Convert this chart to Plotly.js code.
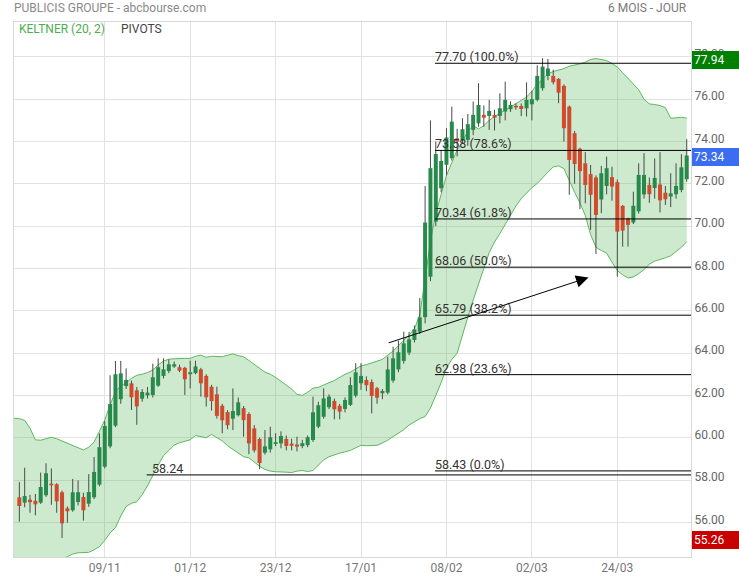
<!DOCTYPE html>
<html><head><meta charset="utf-8">
<script src="https://cdn.plot.ly/plotly-3.0.1.min.js"></script>
<style>html,body{margin:0;padding:0;background:#fff}#chart{width:739px;height:580px}</style>
</head><body><div id="chart"></div>
<script>
// ---------- DATA ----------
const dates = ['17/10','18/10','19/10','20/10','21/10','24/10','25/10','26/10','27/10','28/10','31/10','01/11','02/11','03/11','04/11','07/11','08/11','09/11','10/11','11/11','14/11','15/11','16/11','17/11','18/11','21/11','22/11','23/11','24/11','25/11','28/11','29/11','30/11','01/12','02/12','05/12','06/12','07/12','08/12','09/12','12/12','13/12','14/12','15/12','16/12','19/12','20/12','21/12','22/12','23/12','27/12','28/12','29/12','30/12','02/01','03/01','04/01','05/01','06/01','09/01','10/01','11/01','12/01','13/01','16/01','17/01','18/01','19/01','20/01','23/01','24/01','25/01','26/01','27/01','30/01','31/01','01/02','02/02','03/02','06/02','07/02','08/02','09/02','10/02','13/02','14/02','15/02','16/02','17/02','20/02','21/02','22/02','23/02','24/02','27/02','28/02','01/03','02/03','03/03','06/03','07/03','08/03','09/03','10/03','13/03','14/03','15/03','16/03','17/03','20/03','21/03','22/03','23/03','24/03','27/03','28/03','29/03','30/03','31/03','03/04','04/04','05/04','06/04','11/04','12/04','13/04','14/04'];

const openP = [null,57.18,56.93,57.07,57.02,56.93,57.28,57.80,57.80,57.42,56.66,56.57,56.96,57.20,56.88,57.18,57.78,58.63,59.59,60.57,61.82,62.44,62.57,62.24,61.84,62.00,62.02,62.46,62.92,63.15,63.36,63.33,63.30,63.00,63.05,63.23,62.92,62.41,62.05,61.51,61.21,60.90,61.06,61.40,61.12,60.44,59.94,59.29,59.45,59.73,59.73,59.94,59.72,59.68,59.60,59.65,59.89,60.52,60.99,61.44,61.74,61.51,61.36,61.55,61.99,62.57,62.73,62.63,62.34,62.10,62.13,62.70,63.23,63.63,64.02,64.62,65.01,65.70,67.61,70.21,71.79,72.90,73.21,74.15,74.08,74.08,74.55,74.86,75.26,75.21,75.26,75.21,75.42,75.53,75.68,75.68,75.57,75.76,75.97,76.52,77.10,77.10,76.96,76.63,75.65,74.39,73.66,72.97,72.46,72.30,71.26,71.90,72.32,72.08,70.96,70.37,70.17,70.70,71.50,71.95,71.80,71.97,71.58,71.40,71.51,71.71,72.22];
const highP = [null,57.90,58.58,57.30,57.34,58.35,58.79,58.55,57.85,57.50,56.75,58.05,57.98,57.40,58.28,59.09,60.20,60.78,62.95,63.63,63.63,63.28,62.70,62.40,62.30,62.40,63.50,63.75,63.75,63.70,63.60,63.45,63.35,63.64,63.64,63.30,63.00,62.50,62.41,61.60,61.30,62.33,61.90,61.50,61.20,60.60,60.00,60.36,60.52,60.21,60.30,60.10,59.95,60.05,59.90,60.10,61.94,61.70,62.33,62.05,61.85,61.60,61.90,62.86,63.52,63.52,62.90,62.75,62.40,62.30,63.83,64.30,64.59,65.01,65.00,65.30,66.60,71.90,75.00,74.00,73.60,74.63,75.65,74.60,75.10,75.30,75.89,76.76,75.70,75.97,75.50,76.28,76.83,75.90,75.80,75.80,76.80,76.40,77.60,77.94,77.90,77.40,77.00,76.70,75.70,74.50,73.70,73.50,72.89,72.40,72.85,73.29,72.81,72.20,71.00,70.40,71.63,72.97,73.45,72.30,73.20,73.50,71.90,72.50,72.97,73.40,74.11];
const lowP = [null,56.03,56.71,56.45,56.33,56.87,57.20,56.83,56.45,55.26,55.98,56.50,56.80,56.08,56.73,57.10,57.70,58.55,59.50,60.50,61.60,62.30,61.31,60.61,61.70,61.85,61.90,62.40,62.80,63.05,63.30,63.10,62.02,62.33,63.00,61.94,61.47,61.28,60.90,60.21,60.40,60.36,61.00,60.05,59.22,59.30,58.51,59.20,59.30,59.60,59.50,59.40,59.40,59.35,59.50,59.55,59.80,60.45,60.90,61.35,60.87,60.87,61.20,61.50,61.90,62.26,62.20,61.15,61.60,61.82,62.05,62.60,63.10,63.50,63.90,64.50,64.90,65.40,67.40,70.00,71.60,72.40,73.10,73.30,73.90,73.80,74.30,74.70,74.70,74.55,74.52,74.86,75.00,75.40,75.50,75.20,75.18,75.00,75.90,76.40,76.90,76.70,75.81,74.00,71.48,72.00,70.80,71.08,69.82,68.68,70.61,71.50,71.20,67.61,69.03,69.03,70.10,70.60,71.30,71.10,71.30,70.65,71.00,70.90,71.30,71.60,72.10];
const closeP = [null,56.77,57.24,56.95,56.85,57.67,58.32,57.77,56.99,55.95,56.52,57.42,57.42,56.57,57.43,58.38,59.55,60.55,61.59,63.00,63.04,62.73,61.91,61.48,62.16,62.13,62.86,63.33,63.23,63.47,63.47,63.17,62.76,63.09,63.37,62.57,61.91,61.73,61.03,60.82,60.59,61.26,61.67,60.83,59.73,59.40,58.80,59.59,60.02,59.76,60.08,59.61,59.62,59.58,59.74,60.02,61.20,61.53,61.86,61.94,61.34,61.23,61.78,62.49,63.09,62.92,62.48,61.97,61.89,62.21,63.23,63.75,64.04,64.46,64.65,65.12,65.69,70.17,72.74,73.41,73.08,74.19,74.94,74.00,74.58,74.82,75.26,75.73,75.13,75.45,75.13,75.57,75.97,75.73,75.62,75.54,75.97,76.00,77.10,77.54,77.45,76.80,76.31,74.63,73.13,72.94,72.60,71.95,71.48,70.53,72.50,72.74,71.87,69.74,69.79,70.06,70.96,72.42,72.42,71.51,72.28,71.22,71.27,71.55,71.90,72.78,73.34];

const keltnerUpper = [60.92,60.90,60.82,60.45,59.90,59.88,59.95,60.02,59.95,59.84,59.72,59.62,59.52,59.42,59.55,59.80,60.30,60.84,61.55,62.18,62.45,62.60,62.80,62.95,63.00,63.08,63.20,63.44,63.62,63.71,63.73,63.75,63.75,63.75,63.85,63.90,63.80,63.85,63.84,63.83,63.90,63.96,63.88,63.82,63.65,63.45,63.28,63.10,63.00,62.85,62.68,62.50,62.30,62.05,62.00,62.15,62.34,62.38,62.50,62.60,62.70,62.85,63.00,63.10,63.25,63.40,63.45,63.55,63.62,63.70,63.90,64.10,64.35,64.60,64.85,65.15,65.80,67.50,69.30,70.60,71.50,72.40,73.00,73.60,74.00,74.50,74.75,74.60,74.75,75.00,75.18,75.33,75.50,75.65,75.80,75.93,76.10,76.38,76.70,76.95,77.20,77.31,77.38,77.45,77.56,77.60,77.67,77.75,77.88,77.92,77.88,77.83,77.68,77.52,77.25,77.00,76.75,76.45,76.00,75.78,75.75,75.70,75.60,75.10,75.12,75.15,75.10];
const keltnerLower = [53.85,53.88,53.92,53.95,53.98,54.00,54.05,54.10,54.18,54.28,54.38,54.50,54.56,54.56,54.58,54.70,54.85,55.15,55.50,55.75,56.30,56.75,56.90,56.97,57.30,57.72,58.25,58.70,59.15,59.40,59.65,59.76,59.82,59.90,60.10,60.05,60.00,60.15,60.00,59.85,59.62,59.45,59.30,59.10,59.05,58.85,58.65,58.50,58.42,58.39,58.39,58.37,58.35,58.42,58.45,58.40,58.45,58.70,58.95,59.10,59.20,59.27,59.33,59.40,59.52,59.64,59.62,59.62,59.64,59.75,59.88,60.05,60.22,60.38,60.60,60.75,60.90,61.00,61.40,62.00,62.60,63.30,63.70,64.00,64.90,65.70,66.50,67.20,68.00,68.75,69.25,69.65,70.10,70.50,70.95,71.30,71.55,71.82,72.02,72.30,72.55,72.80,72.85,72.72,72.15,71.60,71.10,70.50,69.60,69.00,68.85,68.72,68.30,67.90,67.70,67.55,67.60,67.75,67.95,68.20,68.35,68.42,68.50,68.60,68.78,69.00,69.27];

const tickDates = ['09/11','01/12','23/12','17/01','08/02','02/03','24/03'];
const yTicks = [56,58,60,62,64,66,68,70,72,74,76,78];

const fibLevels = [77.70, 73.58, 70.34, 68.06, 65.79, 62.98, 58.43];
const fibPct = ['100.0%','78.6%','61.8%','50.0%','38.2%','23.6%','0.0%'];
const pivotLevel = 58.24;

const trendFrom = [69.9, 64.46];
const trendTo = [107.6, 67.57];

const lastClose = 73.34, periodHigh = 77.94, periodLow = 55.26;

// ---------- BUILD ----------
const xIdx = dates.map((d,i)=>i);
const xMax = 126.8;
const fibStart = 78.84;
const pivotStart = 24.85;

const wx=[], wy=[], gx=[], gy=[], rx=[], ry=[];
for (let i=0;i<dates.length;i++){
  if (openP[i]===null) continue;
  wx.push(i,i,null); wy.push(lowP[i],highP[i],null);
  let lo=Math.min(openP[i],closeP[i]), hi=Math.max(openP[i],closeP[i]);
  if (hi-lo<0.08){const m=(hi+lo)/2; lo=m-0.04; hi=m+0.04;}
  if (closeP[i]>=openP[i]){gx.push(i,i,null); gy.push(lo,hi,null);}
  else {rx.push(i,i,null); ry.push(lo,hi,null);}
}

const traces = [
  {type:'scatter',mode:'lines',x:xIdx,y:keltnerLower,line:{color:'#5cb85c',width:1},hoverinfo:'skip'},
  {type:'scatter',mode:'lines',x:xIdx,y:keltnerUpper,line:{color:'#5cb85c',width:1},fill:'tonexty',fillcolor:'rgba(92,184,92,0.30)',hoverinfo:'skip'},
  {type:'scatter',mode:'lines',x:wx,y:wy,line:{color:'#4a4a4a',width:1},hoverinfo:'skip'},
  {type:'scatter',mode:'lines',x:gx,y:gy,line:{color:'#278a4c',width:4},hoverinfo:'skip'},
  {type:'scatter',mode:'lines',x:rx,y:ry,line:{color:'#d04a2e',width:4},hoverinfo:'skip'}
];

const shapes = fibLevels.map(v=>({type:'line',xref:'x',yref:'y',x0:fibStart,x1:xMax,y0:v,y1:v,line:{color:'#000',width:1}}));
shapes.push({type:'line',xref:'x',yref:'y',x0:pivotStart,x1:xMax,y0:pivotLevel,y1:pivotLevel,line:{color:'#000',width:1}});

const ann = fibLevels.map((v,k)=>({xref:'x',yref:'y',x:fibStart,y:v,xanchor:'left',yanchor:'bottom',xshift:-2,yshift:-3,
  text:v.toFixed(2)+' ('+fibPct[k]+')',showarrow:false,font:{size:12.5,color:'#333'}}));
ann.push({xref:'x',yref:'y',x:pivotStart+1,y:pivotLevel,xanchor:'left',yanchor:'bottom',xshift:-2,yshift:-3,
  text:pivotLevel.toFixed(2),showarrow:false,font:{size:12.5,color:'#333'}});
ann.push({xref:'x',yref:'y',x:trendTo[0],y:trendTo[1],axref:'x',ayref:'y',ax:trendFrom[0],ay:trendFrom[1],
  text:'',showarrow:true,arrowhead:2,arrowsize:2.5,arrowwidth:1,arrowcolor:'#000',standoff:0});
ann.push({xref:'paper',yref:'paper',x:0,y:1+14/535,xanchor:'left',yanchor:'middle',xshift:-2,showarrow:false,
  text:'PUBLICIS GROUPE - abcbourse.com',font:{size:12,color:'#8a8a8a'}});
ann.push({xref:'paper',yref:'paper',x:0.997,y:1+14/535,xanchor:'right',yanchor:'middle',showarrow:false,
  text:'6 MOIS - JOUR',font:{size:12,color:'#7a7a7a'}});
ann.push({xref:'paper',yref:'paper',x:5.3/677,y:1-7/535,xanchor:'left',yanchor:'middle',xshift:-2,showarrow:false,
  text:'KELTNER (20, 2)',font:{size:12,color:'#4caf50'}});
ann.push({xref:'paper',yref:'paper',x:106.7/677,y:1-7/535,xanchor:'left',yanchor:'middle',xshift:-2,showarrow:false,
  text:'PIVOTS',font:{size:12,color:'#444'}});
[[periodHigh,'#008000'],[lastClose,'#3a6df0'],[periodLow,'#c80000']].forEach(([v,c])=>{
  ann.push({xref:'paper',yref:'y',x:1,y:v,xanchor:'left',yanchor:'middle',xshift:1,yshift:-2,showarrow:false,
    text:v.toFixed(2),font:{size:12,color:'#fff'},bgcolor:c,bordercolor:c,borderwidth:1,borderpad:1,width:43,height:14,align:'left'});
});

const layout = {
  width:739,height:580,margin:{l:14,r:48,t:22,b:23},
  paper_bgcolor:'#fff',plot_bgcolor:'#fff',showlegend:false,hovermode:false,
  font:{family:'Roboto, sans-serif',size:12,color:'#666'},
  xaxis:{range:[0,xMax],tickmode:'array',tickvals:tickDates.map(d=>dates.indexOf(d)),ticktext:tickDates,
    showgrid:true,gridcolor:'#e2e2e2',zeroline:false,showline:true,linecolor:'#d8d8d8',mirror:true,ticks:'',
    tickfont:{size:12,color:'#777'},fixedrange:true},
  yaxis:{side:'right',range:[54.36,79.65],tickmode:'array',tickvals:yTicks,ticktext:yTicks.map(v=>v.toFixed(2)),
    showgrid:true,gridcolor:'#e2e2e2',zeroline:false,showline:true,linecolor:'#d8d8d8',mirror:true,ticks:'',
    ticklabelshift:-3,tickfont:{size:12,color:'#666'},fixedrange:true},
  shapes:shapes,annotations:ann
};
Plotly.newPlot('chart',traces,layout,{displayModeBar:false,staticPlot:true});
</script></body></html>
